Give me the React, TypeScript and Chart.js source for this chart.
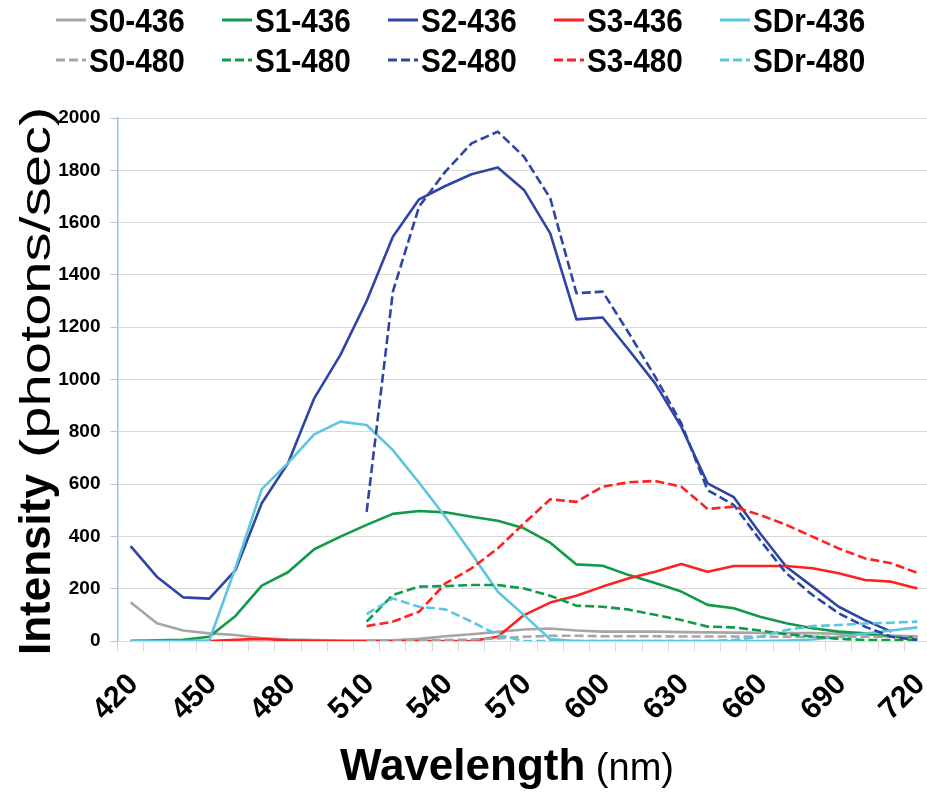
import { useEffect, useRef } from 'react';
import { Chart, registerables } from 'chart.js';

Chart.register(...registerables);

const wavelengths = [420, 430, 440, 450, 460, 470, 480, 490, 500, 510, 520, 530, 540, 550, 560, 570, 580, 590, 600, 610, 620, 630, 640, 650, 660, 670, 680, 690, 700, 710, 720];
const tickLabels = ['420', '450', '480', '510', '540', '570', '600', '630', '660', '690', '720'];

const s0_436 = [148, 68, 40, 29, 23, 10, 6, 4, 2, 1, 3, 8, 18, 26, 35, 44, 48, 40, 36, 36, 36, 34, 33, 32, 31, 30, 30, 28, 25, 21, 17];
const s1_436 = [0, 3, 5, 16, 96, 212, 263, 351, 399, 444, 486, 497, 492, 475, 460, 431, 376, 293, 288, 252, 222, 189, 138, 125, 93, 68, 49, 36, 29, 16, 14];
const s2_436 = [363, 246, 167, 162, 271, 527, 680, 928, 1094, 1300, 1546, 1689, 1740, 1785, 1811, 1725, 1559, 1230, 1237, 1113, 985, 819, 603, 550, 412, 284, 208, 131, 80, 36, null];
const s3_436 = [0, 0, 0, 0, 5, 8, 3, 1, 0, 0, 0, 0, 0, 0, 16, 99, 147, 173, 208, 240, 265, 294, 265, 287, 287, 287, 278, 259, 233, 227, 201];
const sdr_436 = [0, 0, 0, 2, 280, 581, 680, 790, 839, 826, 730, 605, 475, 335, 188, 99, 7, 0, 0, 0, 0, 0, 0, 0, 0, 2, 6, 16, 29, 40, 52];
const s0_480 = [null, null, null, null, null, null, null, null, null, 2, 2, 3, 4, 6, 10, 16, 20, 20, 18, 18, 18, 17, 17, 17, 16, 16, 16, 16, 16, 16, 15];
const s1_480 = [null, null, null, null, null, null, null, null, null, 74, 176, 208, 210, 214, 214, 201, 173, 135, 131, 120, 100, 80, 55, 52, 40, 26, 17, 8, 4, 4, 4];
const s2_480 = [null, null, null, null, null, null, null, null, null, 494, 1336, 1661, 1795, 1903, 1948, 1852, 1693, 1330, 1336, 1177, 1011, 832, 577, 520, 386, 259, 176, 106, 55, 16, 4];
const s3_480 = [null, null, null, null, null, null, null, null, null, 57, 74, 112, 220, 278, 354, 450, 542, 532, 590, 607, 612, 590, 505, 514, 482, 444, 399, 354, 316, 297, 261];
const sdr_480 = [null, null, null, null, null, null, null, null, null, 103, 163, 131, 121, 74, 23, 0, 0, 0, 0, 0, 0, 0, 0, 4, 16, 42, 57, 61, 67, 70, 74];

const seriesLabels = ['S0-436', 'S1-436', 'S2-436', 'S3-436', 'SDr-436', 'S0-480', 'S1-480', 'S2-480', 'S3-480', 'SDr-480'];
const seriesValues = [s0_436, s1_436, s2_436, s3_436, sdr_436, s0_480, s1_480, s2_480, s3_480, sdr_480];
const seriesColors = ['#A6A6A6', '#119A48', '#2E45A6', '#FF2020', '#5CC6E0', '#A6A6A6', '#119A48', '#2E45A6', '#FF2020', '#5CC6E0'];

const FONT = '"Liberation Sans", Arial, Helvetica, sans-serif';
const DASH = [9, 4];

const textPlugin = {
  id: 'customTexts',
  afterDraw(chart: any) {
    const ctx = chart.ctx as CanvasRenderingContext2D;
    const ds = chart.data.datasets;
    ctx.save();
    // legend
    ctx.textBaseline = 'alphabetic';
    ctx.textAlign = 'left';
    for (let k = 0; k < ds.length; k++) {
      const row = Math.floor(k / 5);
      const col = k % 5;
      const x0 = 56 + col * 166;
      const base = row === 0 ? 32 : 72;
      const ly = base - 12;
      ctx.strokeStyle = ds[k].borderColor;
      ctx.lineWidth = 3;
      ctx.setLineDash(ds[k].borderDash || []);
      ctx.beginPath();
      ctx.moveTo(x0, ly);
      ctx.lineTo(x0 + 30, ly);
      ctx.stroke();
      ctx.setLineDash([]);
      ctx.fillStyle = '#000';
      ctx.font = 'bold 33px ' + FONT;
      ctx.save();
      ctx.translate(x0 + 33, base);
      ctx.scale(0.9, 1);
      ctx.fillText(ds[k].label, 0, 0);
      ctx.restore();
    }
    // x title
    ctx.font = 'bold 44px ' + FONT;
    const w1 = ctx.measureText('Wavelength').width;
    ctx.fillText('Wavelength', 340, 780);
    ctx.font = '38px ' + FONT;
    ctx.fillText(' (nm)', 340 + w1, 780);
    // y title
    ctx.translate(50, 655);
    ctx.rotate(-Math.PI / 2);
    ctx.font = 'bold 44px ' + FONT;
    const w2 = ctx.measureText('Intensity').width;
    ctx.fillText('Intensity', 0, 0);
    ctx.font = '42px ' + FONT;
    ctx.translate(w2, 0);
    ctx.scale(1.38, 1);
    ctx.fillText(' (photons/sec)', 0, 0);
    ctx.restore();
  },
};

export default function App() {
  const ref = useRef<HTMLCanvasElement>(null);
  useEffect(() => {
    const canvas = ref.current;
    if (!canvas) return;
    const chart = new Chart(canvas, {
      type: 'line',
      data: {
        labels: wavelengths.map(String),
        datasets: seriesLabels.map((label, i) => ({
          label,
          data: seriesValues[i],
          borderColor: seriesColors[i],
          backgroundColor: seriesColors[i],
          borderWidth: 2.6,
          borderDash: i >= 5 ? DASH : [],
          pointRadius: 0,
          pointHoverRadius: 0,
          tension: 0,
          fill: false,
          spanGaps: false,
          borderJoinStyle: 'round' as const,
          order: -i,
        })),
      },
      options: {
        responsive: false,
        animation: false,
        devicePixelRatio: 1,
        layout: { padding: { left: 0, right: 49.5, top: 118, bottom: 0 } },
        plugins: {
          legend: { display: false },
          tooltip: { enabled: false },
          title: { display: false },
        },
        scales: {
          x: {
            type: 'category',
            offset: true,
            grid: {
              offset: true,
              drawOnChartArea: false,
              drawTicks: true,
              tickLength: 10,
              color: '#D9D9D9',
              lineWidth: 1,
            },
            border: { display: true, color: '#D9D9D9', width: 1 },
            ticks: {
              autoSkip: false,
              minRotation: 45,
              maxRotation: 45,
              padding: 16,
              labelOffset: 3,
              color: '#000',
              font: { family: FONT, size: 30, weight: 'bold', lineHeight: 1.2 },
              callback: (_v: any, idx: number) => {
                const s = String(wavelengths[idx]);
                return tickLabels.includes(s) ? s : '';
              },
            },
            afterFit: (scale: any) => {
              scale.height = 158;
            },
          },
          y: {
            min: 0,
            max: 2000,
            ticks: {
              stepSize: 200,
              padding: 10,
              color: '#000',
              font: { family: FONT, size: 19, weight: 'bold' },
              callback: (v: any) => String(v),
            },
            grid: {
              color: '#D9D9D9',
              lineWidth: 1,
              drawTicks: true,
              tickLength: 7,
              tickColor: '#AFC6E4',
            },
            border: { display: true, color: '#9DC3E6', width: 1.5 },
            afterFit: (scale: any) => {
              scale.width = 117.5;
            },
          },
        },
      },
      plugins: [textPlugin],
    });
    return () => chart.destroy();
  }, []);
  return (
    <div style={{ position: 'absolute', left: 0, top: 0, width: 927, height: 799, overflow: 'hidden', background: '#fff' }}>
      <canvas ref={ref} width={980} height={799} style={{ width: 980, height: 799, display: 'block' }} />
    </div>
  );
}
